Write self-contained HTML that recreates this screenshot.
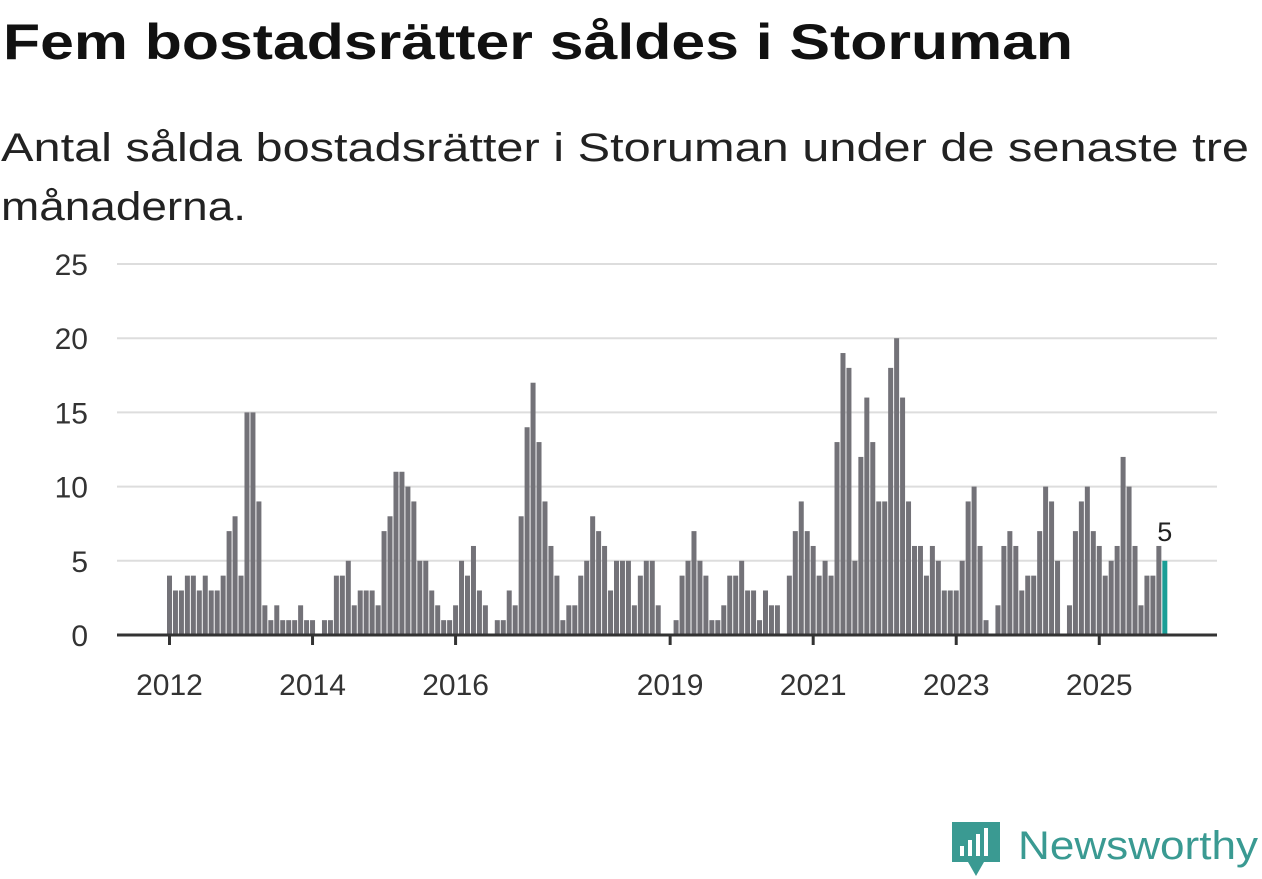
<!DOCTYPE html>
<html><head><meta charset="utf-8"><style>
html,body{margin:0;padding:0;background:#fff;}
svg{display:block;font-family:"Liberation Sans",sans-serif;}
</style></head><body>
<svg id="chart" width="1262" height="879" viewBox="0 0 1262 879">
<text x="3" y="59" font-size="50" font-weight="bold" fill="#111" textLength="1070" lengthAdjust="spacingAndGlyphs">Fem bostadsrätter såldes i Storuman</text>
<text x="1" y="161" font-size="40" fill="#222" textLength="1248" lengthAdjust="spacingAndGlyphs">Antal sålda bostadsrätter i Storuman under de senaste tre</text>
<text x="1" y="220" font-size="40" fill="#222" textLength="245" lengthAdjust="spacingAndGlyphs">månaderna.</text>
<g id="grid"></g>
<g id="bars"></g>
<g id="xaxis"></g>
<g>
<path d="M952 822 h48 v40 h-16 l-8 14 l-8 -14 h-16 z" fill="#3a9a92"/>
<rect x="960" y="846" width="4" height="10" fill="#fff"/>
<rect x="968" y="840" width="4" height="16" fill="#fff"/>
<rect x="976" y="834" width="4" height="22" fill="#fff"/>
<rect x="984" y="828" width="4" height="28" fill="#fff"/>
<text x="1018" y="859" font-size="40" fill="#3a9a92" textLength="240" lengthAdjust="spacingAndGlyphs">Newsworthy</text>
</g>
</svg>
<script>
const values = [
4,3,3,4,4,3,4,3,3,4,7,8,
4,15,15,9,2,1,2,1,1,1,2,1,
1,0,1,1,4,4,5,2,3,3,3,2,
7,8,11,11,10,9,5,5,3,2,1,1,
2,5,4,6,3,2,0,1,1,3,2,8,
14,17,13,9,6,4,1,2,2,4,5,8,
7,6,3,5,5,5,2,4,5,5,2,0,
0,1,4,5,7,5,4,1,1,2,4,4,
5,3,3,1,3,2,2,0,4,7,9,7,
6,4,5,4,13,19,18,5,12,16,13,9,
9,18,20,16,9,6,6,4,6,5,3,3,
3,5,9,10,6,1,0,2,6,7,6,3,
4,4,7,10,9,5,0,2,7,9,10,7,
6,4,5,6,12,10,6,2,4,4,6,5];
const startYear = 2012;
const yTicks = [0,5,10,15,20,25];
const xTickYears = [2012,2014,2016,2019,2021,2023,2025];

const NS="http://www.w3.org/2000/svg";
const x0=169.5, step=5.96, barW=5;
const y0=635, yPer=(635-264)/25;
const xPos=i=>x0+i*step;
const yPos=v=>y0-v*yPer;
function mk(tag,attrs,parent){const e=document.createElementNS(NS,tag);for(const k in attrs)e.setAttribute(k,attrs[k]);parent.appendChild(e);return e;}
const grid=document.getElementById('grid'),bars=document.getElementById('bars'),xa=document.getElementById('xaxis');
yTicks.forEach(t=>{
  if(t>0){const l=mk('line',{x1:117,x2:1217,y1:yPos(t),y2:yPos(t),stroke:'#dddddd','stroke-width':2},grid);
  
  }
  const tx=mk('text',{x:88,y:yPos(t)+11,'font-size':30,fill:'#333','text-anchor':'end'},grid);
  tx.textContent=t;
  
  
});
values.forEach((v,i)=>{
  const last=i===values.length-1;
  const r=mk('rect',{x:xPos(i)-barW/2,y:yPos(v),width:barW,height:v*yPer,fill:last?'#1a9e96':'#737278'},bars);
  
  
  if(last){const t=mk('text',{x:xPos(i),y:yPos(v)-20,'font-size':27,fill:'#222','text-anchor':'middle'},bars);t.textContent=v;
  
  }
});
const ax=mk('line',{x1:117,x2:1217,y1:y0,y2:y0,stroke:'#333','stroke-width':3},xa);


xTickYears.forEach(yr=>{
  const xx=xPos((yr-startYear)*12);
  const tk=mk('line',{x1:xx,x2:xx,y1:y0,y2:y0+10,stroke:'#333','stroke-width':3},xa);
  
  
  const t=mk('text',{x:xx,y:695,'font-size':30,fill:'#333','text-anchor':'middle'},xa);
  t.textContent=yr;
  
  
});
</script>
</body></html>
